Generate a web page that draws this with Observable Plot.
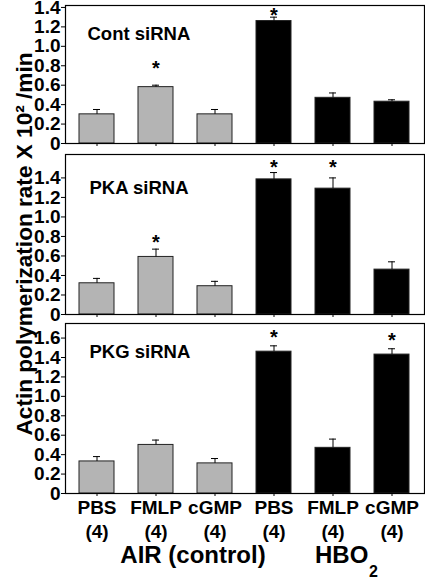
<!DOCTYPE html>
<html><head><meta charset="utf-8">
<script src="https://cdn.jsdelivr.net/npm/d3@7"></script>
<script src="https://cdn.jsdelivr.net/npm/@observablehq/plot@0.6"></script>
<style>
html,body{margin:0;padding:0;background:#fff;}
#chart{position:relative;width:425px;height:579px;overflow:hidden;background:#fff;font-family:"Liberation Sans",Arial,sans-serif;}
#chart svg{position:absolute;left:0;}
#ylab{position:absolute;left:25px;top:243.5px;transform:translate(-50%,-50%) rotate(-90deg);white-space:nowrap;line-height:1;font-weight:bold;font-size:22.6px;color:#000;}
</style></head><body><div id="chart"></div>
<script>
// ---- data ----
const categories = ["PBS", "FMLP", "cGMP", "PBS", "FMLP", "cGMP"];
const counts = ["(4)", "(4)", "(4)", "(4)", "(4)", "(4)"];
const groups = ["air", "air", "air", "hbo", "hbo", "hbo"];
const groupLabels = ["AIR (control)", "HBO"];
const panelNames = ["Cont siRNA", "PKA siRNA", "PKG siRNA"];

const contValues = [0.30, 0.58, 0.30, 1.26, 0.47, 0.43];
const contErrors = [0.05, 0.02, 0.05, 0.04, 0.05, 0.02];
const contStars  = [null, 0.82, null, 1.37, null, null];

const pkaValues = [0.32, 0.59, 0.29, 1.385, 1.29, 0.46];
const pkaErrors = [0.05, 0.08, 0.05, 0.07, 0.11, 0.08];
const pkaStars  = [null, 0.79, null, 1.56, 1.56, null];

const pkgValues = [0.33, 0.50, 0.31, 1.46, 0.47, 1.43];
const pkgErrors = [0.05, 0.05, 0.05, 0.06, 0.09, 0.06];
const pkgStars  = [null, null, null, 1.66, null, 1.63];

const yTicksA = [0, 0.2, 0.4, 0.6, 0.8, 1.0, 1.2, 1.4];
const yTicksB = [0, 0.2, 0.4, 0.6, 0.8, 1.0, 1.2, 1.4, 1.6];
const yTitle = "Actin polymerization rate X 10\u00B2 /min";

// ---- layout ----
const FONT = "'Liberation Sans', Arial, sans-serif";
const panels = [
  {name: panelNames[0], values: contValues, errors: contErrors, stars: contStars, domain: [0, 1.42], ticks: yTicksA, top: 0,   height: 149, mb: 6,  dx: 22, dy: 21, last: false},
  {name: panelNames[1], values: pkaValues,  errors: pkaErrors,  stars: pkaStars,  domain: [0, 1.64], ticks: yTicksA, top: 149, height: 171, mb: 6,  dx: 24, dy: 26, last: false},
  {name: panelNames[2], values: pkgValues,  errors: pkgErrors,  stars: pkgStars,  domain: [0, 1.75], ticks: yTicksB, top: 318, height: 261, mb: 86, dx: 24, dy: 21, last: true}
];

const chart = document.getElementById("chart");

for (const p of panels) {
  const data = p.values.map((v, i) => ({i, value: v, error: p.errors[i], star: p.stars[i], group: groups[i]}));
  const stars = data.filter(d => d.star != null);
  const marks = [
    Plot.barY(data, {x: "i", y: "value", fill: "group", stroke: "#222", strokeWidth: 1}),
    Plot.ruleX(data, {x: "i", y1: "value", y2: d => d.value + d.error, stroke: "#000", strokeWidth: 1}),
    Plot.tickY(data, {x: "i", y: d => d.value + d.error, stroke: "#000", strokeWidth: 1, insetLeft: 14, insetRight: 14}),
    Plot.text(stars, {x: "i", y: "star", text: () => "*", fontSize: 20, fontWeight: "bold", dy: 5, fill: "#000"}),
    Plot.text([p.name], {frameAnchor: "top-left", textAnchor: "start", lineAnchor: "top", dx: p.dx, dy: p.dy, fontSize: 18.5, fontWeight: "bold", fill: "#000"}),
    Plot.axisY({ticks: p.ticks, tickSize: 4, tickPadding: 1, tickFormat: d => d === 0 ? "0" : d.toFixed(1), fontSize: 19, fontWeight: "bold", label: null, fill: "#000"}),
    Plot.frame({stroke: "#000", strokeWidth: 1.2})
  ];
  if (p.last) {
    marks.push(
      Plot.axisX({tickSize: 3, tickPadding: 1, tickFormat: i => categories[i] + "\n" + counts[i], fontSize: 19, fontWeight: "bold", lineHeight: 1.25, label: null, fill: "#000"}),
      Plot.text([{i: 1, t: groupLabels[0]}], {x: "i", text: "t", frameAnchor: "bottom", lineAnchor: "middle", dx: 37, dy: 62, fontSize: 24, fontWeight: "bold", fill: "#000"}),
      Plot.text([{i: 4, t: groupLabels[1]}], {x: "i", text: "t", frameAnchor: "bottom", lineAnchor: "middle", textAnchor: "start", dx: -18, dy: 62, fontSize: 24, fontWeight: "bold", fill: "#000"}),
      Plot.text([{i: 4, t: "2"}], {x: "i", text: "t", frameAnchor: "bottom", lineAnchor: "middle", textAnchor: "start", dx: 36, dy: 78, fontSize: 16, fontWeight: "bold", fill: "#000"})
    );
  } else {
    marks.push(Plot.axisX({tickSize: 3, tickFormat: () => "", label: null}));
  }
  const svg = Plot.plot({
    width: 425,
    height: p.height,
    marginLeft: 65,
    marginRight: 1,
    marginTop: 5,
    marginBottom: p.mb,
    style: {fontFamily: FONT, background: "transparent", overflow: "visible", color: "#000"},
    x: {type: "band", domain: d3.range(categories.length), paddingInner: 0.4, paddingOuter: 0.2},
    y: {domain: p.domain},
    color: {domain: ["air", "hbo"], range: ["#b4b4b4", "#000000"]},
    marks
  });
  svg.style.top = p.top + "px";
  chart.appendChild(svg);
}

const yl = document.createElement("div");
yl.id = "ylab";
yl.textContent = yTitle;
chart.appendChild(yl);
</script>
</body></html>
